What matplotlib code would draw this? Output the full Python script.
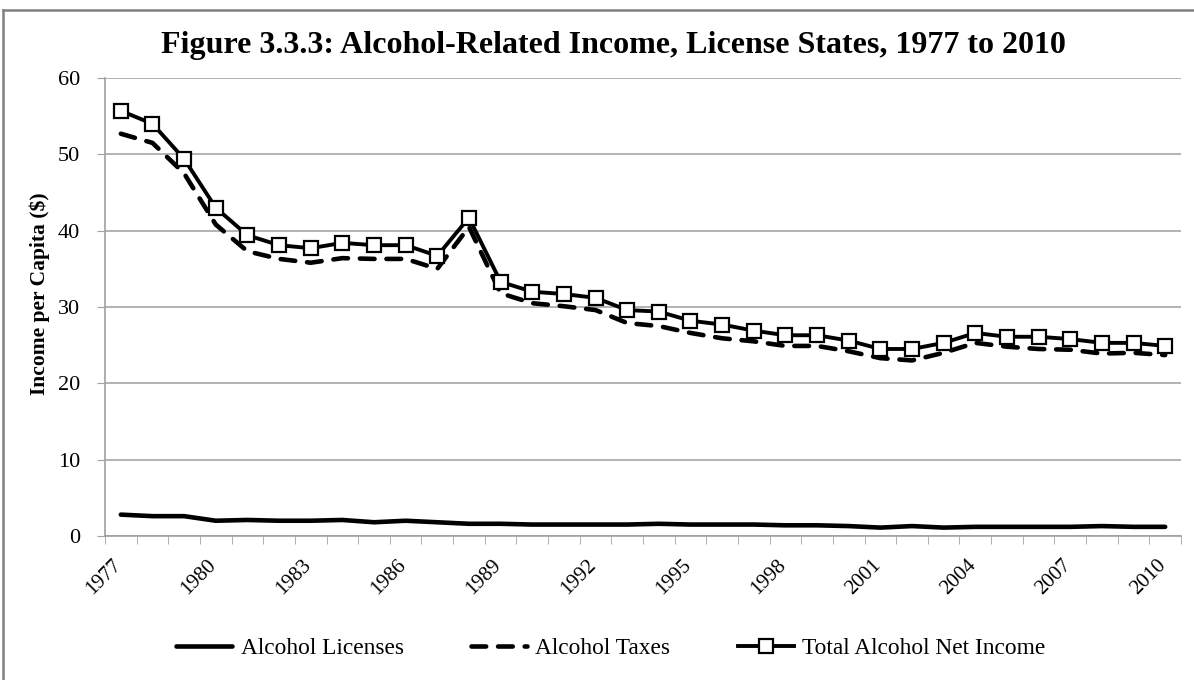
import matplotlib
matplotlib.use("Agg")
import matplotlib.pyplot as plt
from matplotlib.lines import Line2D
from matplotlib.transforms import ScaledTranslation

years = list(range(1977, 2011))
licenses = [2.8, 2.6, 2.6, 2.0, 2.1, 2.0, 2.0, 2.1, 1.8, 2.0, 1.8, 1.6, 1.6, 1.5, 1.5,
            1.5, 1.5, 1.6, 1.5, 1.5, 1.5, 1.4, 1.4, 1.3, 1.1, 1.3, 1.1, 1.2, 1.2, 1.2,
            1.2, 1.3, 1.2, 1.2]
taxes = [52.7, 51.5, 47.5, 40.8, 37.3, 36.3, 35.8, 36.4, 36.3, 36.3, 35.0, 40.5, 31.8,
         30.5, 30.1, 29.6, 27.9, 27.5, 26.6, 25.9, 25.5, 24.9, 24.9, 24.2, 23.3, 23.0,
         24.0, 25.3, 24.8, 24.5, 24.4, 23.9, 24.0, 23.7]
total = [55.7, 54.0, 49.4, 43.0, 39.4, 38.1, 37.7, 38.4, 38.1, 38.1, 36.7, 41.7, 33.3,
         32.0, 31.7, 31.2, 29.6, 29.4, 28.2, 27.7, 26.9, 26.3, 26.3, 25.6, 24.5, 24.5,
         25.3, 26.6, 26.1, 26.1, 25.8, 25.3, 25.3, 24.9]
series_names = ["Alcohol Licenses", "Alcohol Taxes", "Total Alcohol Net Income"]
title = "Figure 3.3.3: Alcohol-Related Income, License States, 1977 to 2010"
ylabel = "Income per Capita ($)"

serif = ["Liberation Serif", "DejaVu Serif"]
plt.rcParams["font.family"] = serif

W, H = 1194, 680
fig = plt.figure(figsize=(W / 100, H / 100), dpi=100)
ax = fig.add_axes([105 / W, 1 - 536 / H, 1076 / W, 458 / H])

x = list(range(len(years)))
ax.plot(x, licenses, color="black", lw=3.3, label=series_names[0], solid_capstyle="round")
ax.plot(x, taxes, color="black", lw=3.3, ls=(0, (3.2, 2.6)), label=series_names[1],
        dash_capstyle="round")
ax.plot(x, total, color="black", lw=2.8, marker="s", markersize=10,
        markerfacecolor="white", markeredgecolor="black", markeredgewidth=1.6,
        label=series_names[2])

ax.set_xlim(-0.5, len(years) - 0.5)
ax.set_ylim(0, 60)
ax.set_yticks(range(0, 61, 10))
ax.set_yticklabels([str(v) for v in range(0, 61, 10)], fontsize=16)
ax.set_xticks([i for i in x if (years[i] - 1977) % 3 == 0])
ax.set_xticklabels([str(years[i]) for i in x if (years[i] - 1977) % 3 == 0],
                   rotation=45, ha="right", rotation_mode="anchor", fontsize=15)
ax.set_xticks([i - 0.5 for i in range(len(years) + 1)], minor=True)
ax.tick_params(axis="x", which="major", length=0, pad=14)
ax.tick_params(axis="x", which="minor", length=6, color="#a0a0a0")
ax.tick_params(axis="y", length=6, color="#a0a0a0", pad=12)
shift = ScaledTranslation(-9 / 100, 0, fig.dpi_scale_trans)
for lab in ax.get_xticklabels():
    lab.set_transform(lab.get_transform() + shift)

ax.grid(axis="y", color="#a6a6a6", lw=1.2)
ax.set_axisbelow(True)
for s in ["top", "right"]:
    ax.spines[s].set_visible(False)
for s in ["left", "bottom"]:
    ax.spines[s].set_color("#a0a0a0")
    ax.spines[s].set_linewidth(1.2)

ax.set_ylabel(ylabel, fontsize=15.5, fontweight="bold")
ax.yaxis.set_label_coords(-0.0515, 0.528)
fig.text(613 / W, 1 - 45 / H, title, ha="center", va="center", fontsize=23,
         fontweight="bold")

leg = fig.legend(loc="center", bbox_to_anchor=(611 / W, 1 - 648 / H), ncol=3,
                 frameon=False, fontsize=16.8, handlelength=2.4, columnspacing=2.9,
                 handletextpad=0.35)

# partial outer frame (top and left edges visible in the reference)
fig.add_artist(Line2D([3 / W, 1.0], [1 - 10 / H, 1 - 10 / H], transform=fig.transFigure,
                      color="#808080", lw=1.8))
fig.add_artist(Line2D([3 / W, 3 / W], [0.0, 1 - 10 / H], transform=fig.transFigure,
                      color="#808080", lw=1.8))

fig.savefig("out.png", dpi=100)
